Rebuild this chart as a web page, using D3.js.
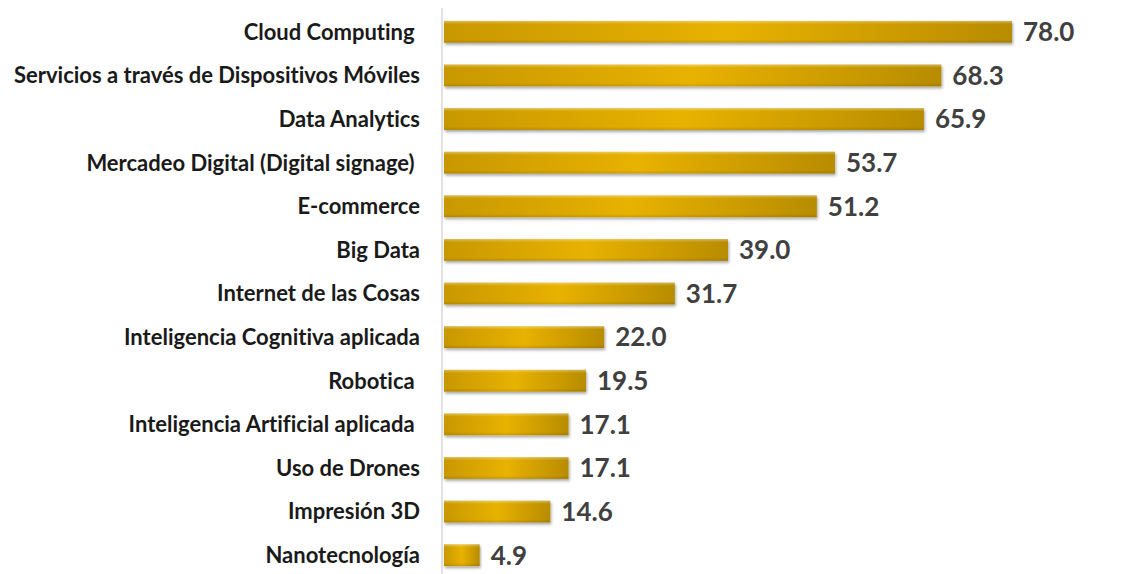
<!DOCTYPE html>
<html><head><meta charset="utf-8">
<script src="https://cdn.jsdelivr.net/npm/d3@7"></script>
<style>html,body{margin:0;padding:0;background:#fff;}svg{display:block;}text{white-space:pre;font-variant-ligatures:none;}</style>
</head><body>
<svg id="c" width="1126" height="574"></svg>
<script>
const categories = ["Cloud Computing ","Servicios a través de Dispositivos Móviles","Data Analytics","Mercadeo Digital (Digital signage) ","E-commerce","Big Data","Internet de las Cosas","Inteligencia Cognitiva aplicada","Robotica ","Inteligencia Artificial aplicada ","Uso de Drones","Impresión 3D","Nanotecnología"];
const values = [78.0,68.3,65.9,53.7,51.2,39.0,31.7,22.0,19.5,17.1,17.1,14.6,4.9];

const svg = d3.select("#c");
const x0 = 444;
const x = d3.scaleLinear().domain([0,78]).range([x0,1012]);
const y = d3.scaleBand().domain(categories).range([10,577]).paddingInner(0.5).paddingOuter(0.25);

const defs = svg.append("defs");
const g = defs.append("linearGradient").attr("id","gh").attr("x1","0").attr("x2","1").attr("y1","0").attr("y2","0");
g.append("stop").attr("offset","0%").attr("stop-color","#c89800");
g.append("stop").attr("offset","50%").attr("stop-color","#e8b200");
g.append("stop").attr("offset","100%").attr("stop-color","#b88c00");
const gv = defs.append("linearGradient").attr("id","gv").attr("x1","0").attr("x2","0").attr("y1","0").attr("y2","1");
gv.append("stop").attr("offset","0%").attr("stop-color","#fff").attr("stop-opacity",0.35);
gv.append("stop").attr("offset","15%").attr("stop-color","#fff").attr("stop-opacity",0);
gv.append("stop").attr("offset","85%").attr("stop-color","#000").attr("stop-opacity",0);
gv.append("stop").attr("offset","100%").attr("stop-color","#000").attr("stop-opacity",0.12);
const f = defs.append("filter").attr("id","sh").attr("x","-5%").attr("y","-30%").attr("width","110%").attr("height","180%");
f.append("feDropShadow").attr("dx",1).attr("dy",2).attr("stdDeviation",1.5).attr("flood-color","#000").attr("flood-opacity",0.35);

svg.append("line").attr("x1",442).attr("x2",442).attr("y1",8).attr("y2",574).attr("stroke","#d9d9d9").attr("stroke-width",1.5);

const bh = y.bandwidth();
const rows = svg.append("g").selectAll("g").data(categories).join("g");
rows.append("rect").attr("x",x0).attr("y",d=>y(d)).attr("width",(d,i)=>x(values[i])-x0).attr("height",bh)
  .attr("fill","url(#gh)").attr("filter","url(#sh)");
rows.append("rect").attr("x",x0).attr("y",d=>y(d)).attr("width",(d,i)=>x(values[i])-x0).attr("height",bh)
  .attr("fill","url(#gv)");

rows.append("text").attr("x",(d,i)=>x(values[i])+11).attr("y",d=>y(d)+bh/2).attr("dy","0.36em")
  .attr("font-family","Lato, sans-serif").attr("font-weight",700).attr("font-size",26).attr("fill","#404040")
  .text((d,i)=>values[i].toFixed(1));

rows.append("text").attr("x",420).attr("y",d=>y(d)+bh/2).attr("dy","0.36em").attr("text-anchor","end")
  .attr("font-family","Lato, sans-serif").attr("font-weight",700).attr("font-size",22).attr("fill","#1a1a1a")
  .text(d=>d);
</script>
</body></html>
